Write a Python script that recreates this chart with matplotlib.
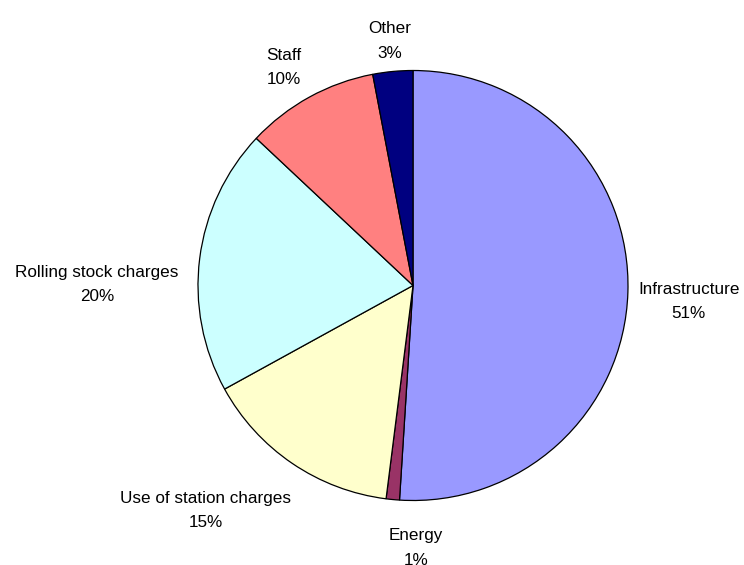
import numpy as np
import matplotlib
matplotlib.use("Agg")
import matplotlib.pyplot as plt

# Cost breakdown (percent of total)
categories = ["Infrastructure", "Energy", "Use of station charges",
              "Rolling stock charges", "Staff", "Other"]
shares = [51, 1, 15, 20, 10, 3]
colors = ["#9999FF", "#993366", "#FFFFCC", "#CCFFFF", "#FF8080", "#000080"]

plt.rcParams["font.family"] = ["Liberation Sans", "DejaVu Sans"]

W, H, DPI = 744, 565, 100
fig = plt.figure(figsize=(W / DPI, H / DPI), dpi=DPI)
ax = fig.add_axes([0, 0, 1, 1])

# pie centre and radius in pixels -> data limits with 1 unit = radius
cx, cy, R = 413.0, 285.5, 215.0

wedges, _ = ax.pie(shares, colors=colors, startangle=90, counterclock=False,
                   radius=1.0, center=(0, 0),
                   wedgeprops=dict(edgecolor="black", linewidth=0.9))
ax.set_xlim(-cx / R, (W - cx) / R)
ax.set_ylim(-(H - cy) / R, cy / R)
ax.set_aspect("equal")
ax.axis("off")

# label anchors: distance from centre (in radii) and angular nudge (deg)
label_r = [1.05, 1.13, 1.215, 1.09, 1.09, 1.05]
label_nudge = [-2.0, 6.0, -2.5, 7.0, 2.0, 0.0]

texts = []
for w, name, val, r0, dn in zip(wedges, categories, shares, label_r, label_nudge):
    mid = np.deg2rad((w.theta1 + w.theta2) / 2.0 + dn)
    ax_, ay_ = r0 * np.cos(mid), r0 * np.sin(mid)
    t = ax.text(ax_, ay_, f"{name}\n{val}%", ha="center", va="center",
                fontsize=12.3, linespacing=1.78, color="black")
    texts.append((t, mid, ax_, ay_))

# push each label box outward so its inner edge sits on the anchor
fig.canvas.draw()
renderer = fig.canvas.get_renderer()
inv = ax.transData.inverted()
for t, mid, ax_, ay_ in texts:
    bb = t.get_window_extent(renderer)
    (x0, y0), (x1, y1) = inv.transform([[bb.x0, bb.y0], [bb.x1, bb.y1]])
    w, h = x1 - x0, y1 - y0
    t.set_position((ax_ + 0.5 * w * np.cos(mid), ay_ + 0.5 * h * np.sin(mid)))

fig.savefig("out.png", dpi=DPI, facecolor="white")
